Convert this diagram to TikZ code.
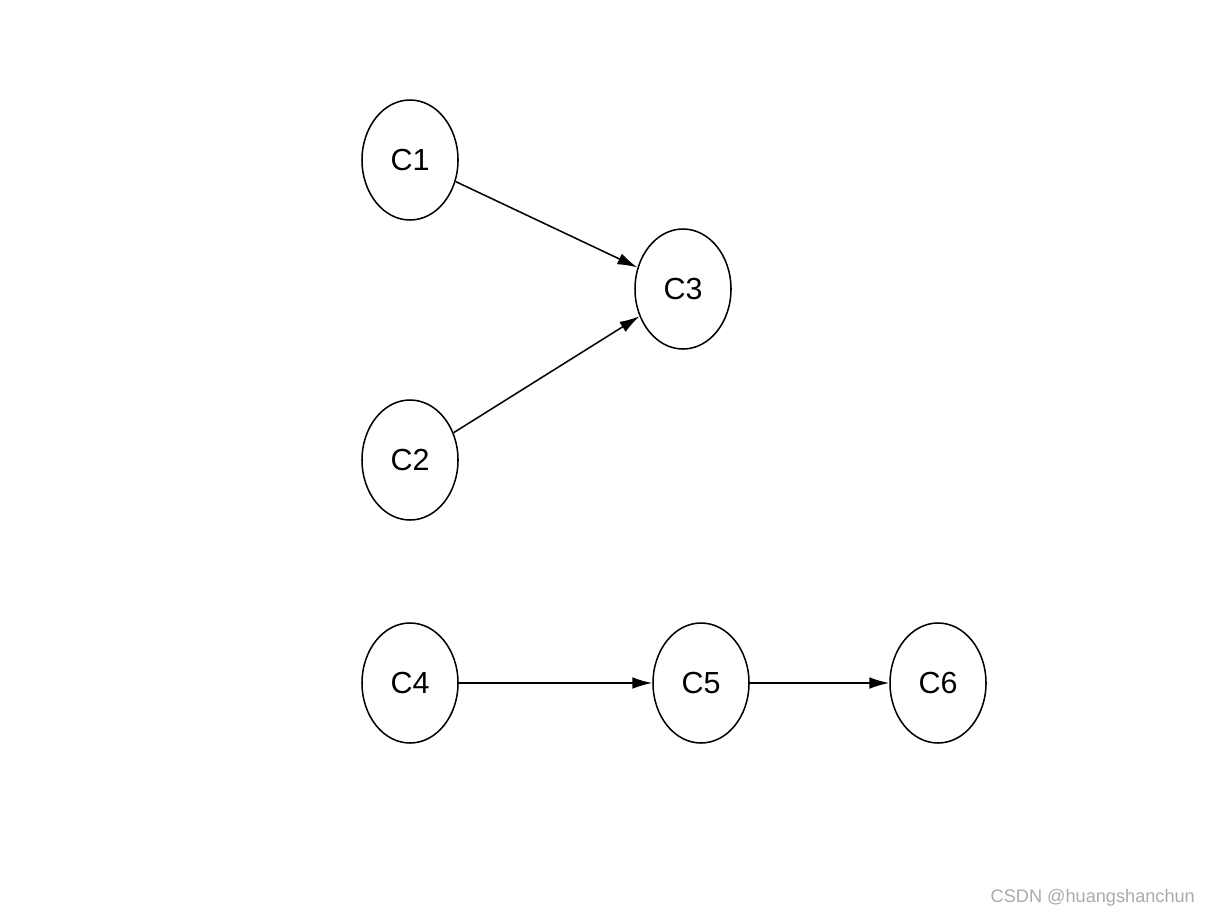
\documentclass[tikz,border=0pt]{standalone}
\usepackage{fontspec}
\setmainfont{Liberation Sans}
\usetikzlibrary{shapes.geometric,arrows.meta}
\definecolor{markgray}{RGB}{170,170,170}

\begin{document}
\begin{tikzpicture}[x=0.03cm,y=-0.03cm,
    cnode/.style={draw,ellipse,line width=1.3pt,minimum width=2.88cm,minimum height=3.6cm,inner sep=0pt,font=\fontsize{26}{30}\selectfont},
    dep/.style={line width=1.3pt,-{Latex[length=17pt,width=10pt]}}]
\useasboundingbox (0,0) rectangle (1212,918);

% Upper group
\node[cnode] (c1) at (410,160) {C1};
\node[cnode] (c2) at (410,460) {C2};
\node[cnode] (c3) at (683,289) {C3};

\draw[dep] (c1) -- (c3);
\draw[dep] (c2) -- (c3);

% Lower chain
\node[cnode] (c4) at (410,683) {C4};
\node[cnode] (c5) at (701,683) {C5};
\node[cnode] (c6) at (938,683) {C6};

\draw[dep] (c4) -- (c5);
\draw[dep] (c5) -- (c6);

% Watermark
\node[anchor=east,text=markgray,font=\fontsize{15.5}{18}\selectfont] (mark) at (1199,898) {CSDN @huangshanchun};
\end{tikzpicture}
\end{document}
